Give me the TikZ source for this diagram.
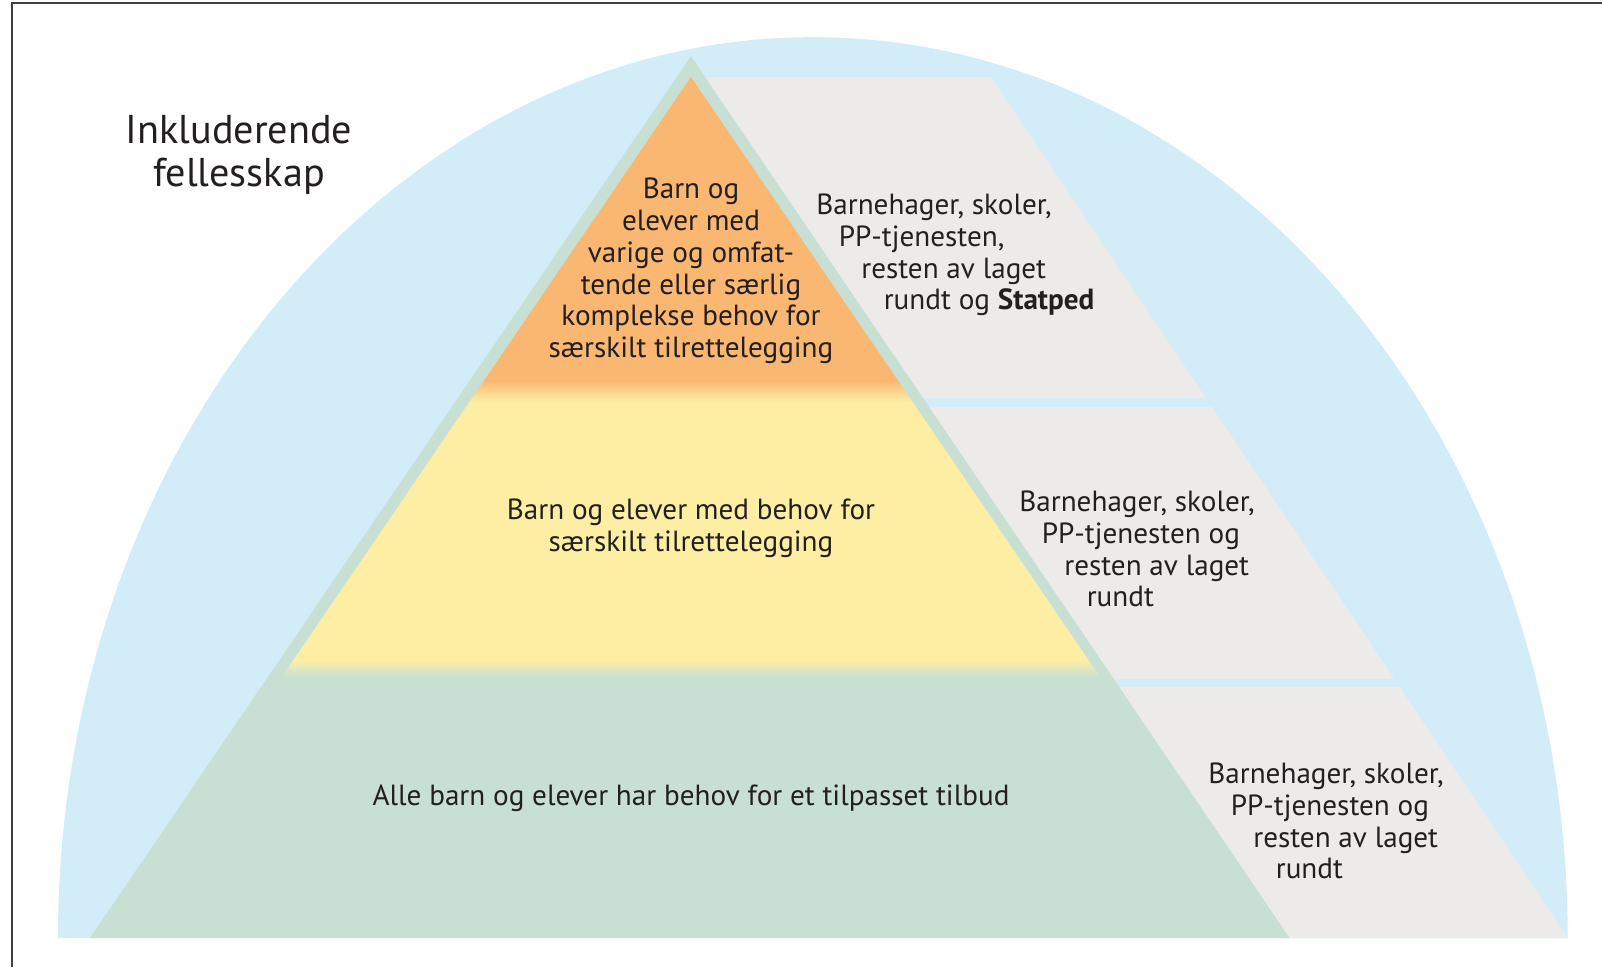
\documentclass[tikz,border=0pt]{standalone}
\usepackage{fontspec}
\setmainfont{PT Sans}
\definecolor{domeblue}{HTML}{D2ECF8}
\definecolor{pyrgreen}{HTML}{C8E0D4}
\definecolor{orangel}{HTML}{F9B772}
\definecolor{yellowl}{HTML}{FEEEA4}
\definecolor{panelgray}{HTML}{ECEBEA}
\definecolor{txt}{HTML}{231F20}
\tikzset{
  lbl/.style={text=txt, inner sep=0pt, font=\fontsize{16.6}{18.1}\selectfont},
  panellbl/.style={lbl, align=left, anchor=west},
  pyrlbl/.style={lbl, align=center}
}
\begin{document}
\begin{tikzpicture}[x=0.02cm,y=-0.02cm]
\useasboundingbox (0,0) rectangle (1602,967);
% frame
\draw[line width=0.8pt, black!75] (12,967) -- (12,3) -- (1602,3);
% dome
\fill[domeblue] (58,938) arc[start angle=180, end angle=0, x radius=15.1cm, y radius=18.02cm] -- cycle;
% pyramid outer
\fill[pyrgreen] (691,56) -- (1290,938) -- (90,938) -- cycle;
% inner layers
\begin{scope}
  \clip (691,77) -- (1278,938) -- (104,938) -- cycle;
  \fill[orangel] (0,60) rectangle (1602,380);
  \shade[top color=orangel, bottom color=yellowl] (0,380) rectangle (1602,402);
  \fill[yellowl] (0,402) rectangle (1602,660);
  \shade[top color=yellowl, bottom color=pyrgreen] (0,660) rectangle (1602,677);
\end{scope}
% panels
\fill[panelgray] (705.3,77) -- (991,77) -- (1206.1,398) -- (923.2,398) -- cycle;
\fill[panelgray] (929.3,407) -- (1212.1,407) -- (1394.3,679) -- (1114.0,679) -- cycle;
\fill[panelgray] (1119.4,687) -- (1399.7,687) -- (1567.9,938) -- (1289.8,938) -- cycle;
% texts
\node[lbl, align=center, font=\fontsize{22.9}{24.4}\selectfont] (title) at (239,155) {Inkluderende\\fellesskap};
\node[pyrlbl] (top) at (691,271) {Barn og\\elever med\\varige og omfat-\\tende eller særlig\\komplekse behov for\\særskilt tilrettelegging};
\node[pyrlbl] (mid) at (691,528) {Barn og elever med behov for\\særskilt tilrettelegging};
\node[pyrlbl] (bot) at (691,798) {Alle barn og elever har behov for et tilpasset tilbud};
\node[panellbl] (p1) at (816,255) {Barnehager, skoler,\\\hspace*{12.8pt}PP-tjenesten,\\\hspace*{25.6pt}resten av laget\\\hspace*{38.4pt}rundt og \textbf{Statped}};
\node[panellbl] (p2) at (1019,549) {Barnehager, skoler,\\\hspace*{12.8pt}PP-tjenesten og\\\hspace*{25.6pt}resten av laget\\\hspace*{38.4pt}rundt};
\node[panellbl] (p3) at (1208,821) {Barnehager, skoler,\\\hspace*{12.8pt}PP-tjenesten og\\\hspace*{25.6pt}resten av laget\\\hspace*{38.4pt}rundt};
\end{tikzpicture}
\end{document}
